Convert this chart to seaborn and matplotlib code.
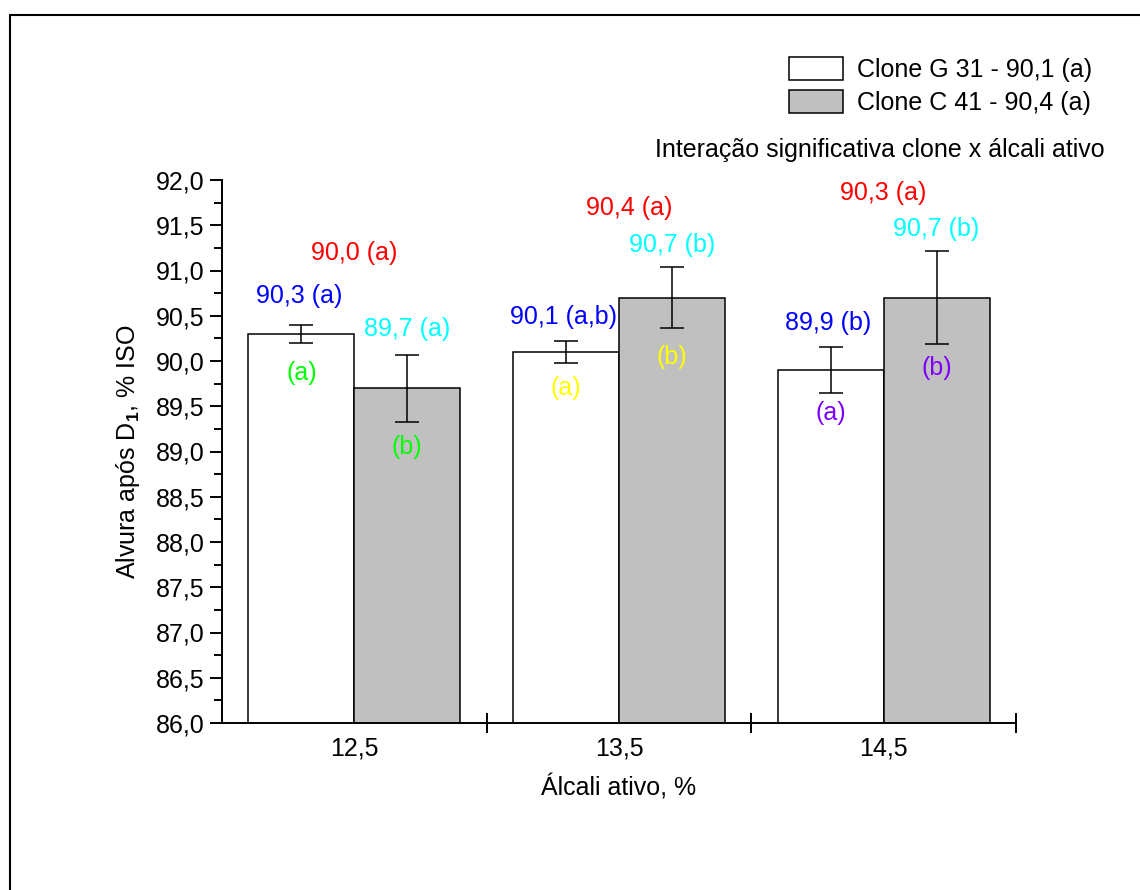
import numpy as np
import pandas as pd
import matplotlib.pyplot as plt
import seaborn as sns
from matplotlib.ticker import MultipleLocator, FixedLocator, FuncFormatter
from matplotlib.lines import Line2D

sns.set_style("ticks")
plt.rcParams['font.family'] = ['Liberation Sans', 'DejaVu Sans']
plt.rcParams['mathtext.fontset'] = 'custom'
plt.rcParams['mathtext.rm'] = 'Liberation Sans'
plt.rcParams['mathtext.bf'] = 'Liberation Sans:bold'
plt.rcParams.update({'text.color': 'black', 'axes.labelcolor': 'black',
                     'xtick.color': 'black', 'ytick.color': 'black',
                     'axes.edgecolor': 'black'})

# dados
alcali = ["12,5", "13,5", "14,5"]
clones = ["Clone G 31 - 90,1 (a)", "Clone C 41 - 90,4 (a)"]
alvura_g31 = [90.3, 90.1, 89.9]
alvura_c41 = [89.7, 90.7, 90.7]
erro_g31 = [0.10, 0.12, 0.25]
erro_c41 = [0.37, 0.34, 0.51]

# textos das medias e letras
media_txt = ["90,0 (a)", "90,4 (a)", "90,3 (a)"]
media_y = [91.19, 91.69, 91.86]
g31_txt = ["90,3 (a)", "90,1 (a,b)", "89,9 (b)"]
g31_y = [90.72, 90.49, 90.42]
c41_txt = ["89,7 (a)", "90,7 (b)", "90,7 (b)"]
c41_y = [90.35, 91.28, 91.46]
letra_g31 = ["(a)", "(a)", "(a)"]
letra_g31_y = [89.87, 89.70, 89.43]
letra_c41 = ["(b)", "(b)", "(b)"]
letra_c41_y = [89.05, 90.04, 89.92]
letra_cores = ["#00ff00", "#ffff00", "#8000ff"]

df = pd.DataFrame({
    "alcali": alcali * 2,
    "clone": [clones[0]] * 3 + [clones[1]] * 3,
    "alvura": alvura_g31 + alvura_c41,
})

fig = plt.figure(figsize=(11.4, 8.9), dpi=100)
ax = fig.add_axes([222 / 1140, 1 - 723 / 890, (1016 - 222) / 1140, (723 - 180) / 890])

sns.barplot(data=df, x="alcali", y="alvura", hue="clone", order=alcali,
            palette=["white", "#c0c0c0"], edgecolor="black", linewidth=1.1,
            width=0.8, errorbar=None, legend=False, ax=ax)

for cont, err in zip(ax.containers, [erro_g31, erro_c41]):
    xs = [p.get_x() + p.get_width() / 2 for p in cont.patches]
    ys = [p.get_height() for p in cont.patches]
    ax.errorbar(xs, ys, yerr=err, fmt="none", ecolor="black",
                elinewidth=1.1, capsize=8.3, capthick=1.1, zorder=5)

fs = 18
for i in range(3):
    ax.text(i + (0.04 if i == 1 else 0.0), media_y[i], media_txt[i], color="#ff0000",
            fontsize=fs, ha="center", va="center")
    ax.text(i - 0.21, g31_y[i], g31_txt[i], color="#0000ff",
            fontsize=fs, ha="center", va="center")
    ax.text(i + 0.2, c41_y[i], c41_txt[i], color="#00ffff",
            fontsize=fs, ha="center", va="center")
    ax.text(i - 0.2, letra_g31_y[i], letra_g31[i], color=letra_cores[i],
            fontsize=fs, ha="center", va="center")
    ax.text(i + 0.2, letra_c41_y[i], letra_c41[i], color=letra_cores[i],
            fontsize=fs, ha="center", va="center")

ax.set_ylim(86, 92)
ax.set_xlim(-0.5, 2.5)
ax.yaxis.set_major_locator(MultipleLocator(0.5))
ax.yaxis.set_minor_locator(MultipleLocator(0.25))
ax.yaxis.set_major_formatter(FuncFormatter(lambda v, p: f"{v:.1f}".replace(".", ",")))
ax.xaxis.set_minor_locator(FixedLocator([0.5, 1.5, 2.5]))

ax.tick_params(axis="y", which="major", length=8.6, width=1.4, labelsize=fs, pad=4, direction="out")
ax.tick_params(axis="y", which="minor", length=5.5, width=1.4, direction="out")
ax.tick_params(axis="x", which="major", length=0, labelsize=fs, pad=10)
ax.tick_params(axis="x", which="minor", length=14, width=1.4, direction="inout")

for s in ["top", "right"]:
    ax.spines[s].set_visible(False)
for s in ["left", "bottom"]:
    ax.spines[s].set_linewidth(1.4)

ax.set_xlabel("Álcali ativo, %", fontsize=fs, labelpad=10)
ax.set_ylabel(r"Alvura após D$_{\mathbf{1}}$, % ISO", fontsize=fs, labelpad=10)

# legenda
handles = [plt.Rectangle((0, 0), 1, 1, facecolor=c, edgecolor="black", linewidth=1.1)
           for c in ["white", "#c0c0c0"]]
fig.legend(handles, clones, loc="upper left", bbox_to_anchor=(789 / 1140, 1 - 57 / 890),
           frameon=False, fontsize=fs, handlelength=2.16, handleheight=1.04,
           labelspacing=0.32, handletextpad=0.56, borderpad=0, borderaxespad=0)

fig.text(1105 / 1140, 1 - 150 / 890, "Interação significativa clone x álcali ativo",
         fontsize=fs, ha="right", va="center")

# moldura
fig.add_artist(Line2D([10 / 1140, 10 / 1140], [0, 1 - 15 / 890], color="black", linewidth=1.5,
                      transform=fig.transFigure))
fig.add_artist(Line2D([10 / 1140, 1], [1 - 15 / 890, 1 - 15 / 890], color="black", linewidth=1.5,
                      transform=fig.transFigure))

fig.savefig("out.png", dpi=100)
